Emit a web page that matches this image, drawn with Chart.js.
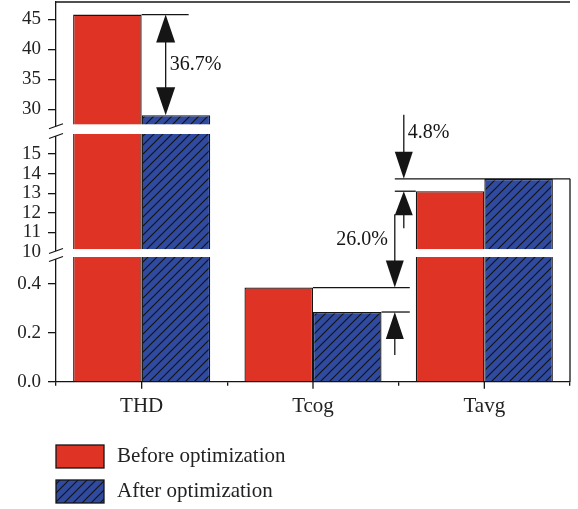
<!DOCTYPE html>
<html>
<head>
<meta charset="utf-8">
<title>Before / after optimization</title>
<script src="https://cdn.jsdelivr.net/npm/chart.js@4/dist/chart.umd.min.js"></script>
<style>
    html, body { margin: 0; padding: 0; background: #fff; }
    #wrap { width: 578px; height: 509px; }
</style>
</head>
<body>
<div id="wrap"><canvas id="optChart" width="578" height="509"></canvas></div>
<script>

// ======================================
// DATA
// ======================================

const categories = ["THD", "Tcog", "Tavg"];

const beforeValues = [45.8, 0.385, 13.1];

const afterValues = [29.0, 0.285, 13.73];

const yTicks = [0, 0.2, 0.4, 10, 11, 12, 13, 14, 15, 30, 35, 40, 45];

const changeLabels = ["36.7%", "26.0%", "4.8%"];

const seriesNames = ["Before optimization", "After optimization"];

// ======================================
// BROKEN AXIS (value knots -> share of plot height)
// ======================================

const axisValues = [0, 0.51, 10, 16.02, 27.5, 47.9];
const axisShares = [0, 0.3284, 0.3416, 0.6524, 0.6779, 1];
const axisBreaks = [[0.51, 10.15], [16.02, 27.5]];

const LinearScale = Chart.LinearScale || Chart.registry.getScale("linear");

class BrokenScale extends LinearScale {

    static id = "broken";

    buildTicks(){
        return yTicks.map(v=>({ value:v }));
    }

    getPixelForValue(value){
        let v = Math.max(axisValues[0], Math.min(axisValues[axisValues.length-1], value));
        let i = 1;
        while(i < axisValues.length-1 && v > axisValues[i]) i++;
        const t = (v - axisValues[i-1]) / (axisValues[i] - axisValues[i-1]);
        const share = axisShares[i-1] + t * (axisShares[i] - axisShares[i-1]);
        return this.bottom - share * (this.bottom - this.top);
    }

    getValueForPixel(pixel){
        const share = (this.bottom - pixel) / (this.bottom - this.top);
        let i = 1;
        while(i < axisShares.length-1 && share > axisShares[i]) i++;
        const t = (share - axisShares[i-1]) / (axisShares[i] - axisShares[i-1]);
        return axisValues[i-1] + t * (axisValues[i] - axisValues[i-1]);
    }

}

Chart.register(BrokenScale);

// ======================================
// STYLE
// ======================================

const RED = "#df3325";
const BLUE = "#2f4a9f";
const INK = "#151515";
const FONT = "'Liberation Serif', 'DejaVu Serif', serif";

const canvas = document.getElementById("optChart");
const ctx = canvas.getContext("2d");

function makeHatch(){

    const tile = document.createElement("canvas");
    tile.width = 9;
    tile.height = 9;

    const g = tile.getContext("2d");
    g.fillStyle = BLUE;
    g.fillRect(0, 0, 9, 9);

    g.strokeStyle = INK;
    g.lineWidth = 1.2;
    g.beginPath();
    g.moveTo(-1, 10); g.lineTo(10, -1);
    g.moveTo(-1, 1); g.lineTo(1, -1);
    g.moveTo(8, 10); g.lineTo(10, 8);
    g.stroke();

    return ctx.createPattern(tile, "repeat");

}

const hatch = makeHatch();

// ======================================
// HELPERS
// ======================================

function line(c, x1, y1, x2, y2){
    c.beginPath();
    c.moveTo(x1, y1);
    c.lineTo(x2, y2);
    c.stroke();
}

function arrowHead(c, x, tipY, dir, len, w){
    // dir = 1 points down, -1 points up
    c.beginPath();
    c.moveTo(x, tipY);
    c.lineTo(x - w/2, tipY - dir*len);
    c.lineTo(x + w/2, tipY - dir*len);
    c.closePath();
    c.fill();
}

function barBox(chart, ds, i){
    const el = chart.getDatasetMeta(ds).data[i];
    return {
        left: el.x - el.width/2,
        right: el.x + el.width/2,
        x: el.x,
        top: el.y
    };
}

// ======================================
// PLUGIN: breaks, frame, arrows, legend
// ======================================

const decorPlugin = {

    id:"decor",

    afterDatasetsDraw(chart){

        const c = chart.ctx;
        const area = chart.chartArea;
        const y = chart.scales.y;
        const xs = chart.scales.x;

        c.save();

        // white bands across bars that pass a break
        axisBreaks.forEach(br=>{

            const yLo = y.getPixelForValue(br[0]);
            const yHi = y.getPixelForValue(br[1]);

            categories.forEach((cat, i)=>{
                if(Math.max(beforeValues[i], afterValues[i]) <= br[0]) return;
                const b = barBox(chart, 0, i);
                const a = barBox(chart, 1, i);
                c.fillStyle = "#fff";
                c.fillRect(b.left - 1, yHi, a.right - b.left + 3, yLo - yHi);
            });

            // cut the left spine and draw slashes
            c.fillStyle = "#fff";
            c.fillRect(area.left - 2, yHi + 2, 4, yLo - yHi);

            c.strokeStyle = INK;
            c.lineWidth = 1.2;
            [yHi + 2, yLo + 2].forEach(sy=>{
                line(c, area.left - 7, sy + 2.5, area.left + 7, sy - 2.5);
            });

        });

        c.strokeStyle = INK;
        c.fillStyle = INK;
        c.lineWidth = 1.3;

        // top frame line
        line(c, area.left, area.top, area.right, area.top);

        // major ticks at category centres
        categories.forEach((cat, i)=>{
            const cx = xs.getPixelForValue(i);
            line(c, cx, area.bottom, cx, area.bottom + 7);
        });

        c.font = "20px " + FONT;
        c.textBaseline = "middle";

        // THD
        const thdB = barBox(chart, 0, 0);
        const thdA = barBox(chart, 1, 0);
        const ax = thdA.left + 24;

        line(c, thdA.left, thdB.top, thdA.left + 47, thdB.top);
        line(c, ax, thdB.top + 20, ax, thdA.top - 20);
        arrowHead(c, ax, thdB.top, -1, 28, 19);
        arrowHead(c, ax, thdA.top, 1, 28, 19);

        c.textAlign = "left";
        c.fillText(changeLabels[0], ax + 4, (thdB.top + thdA.top)/2);

        // Tcog and Tavg
        const tcB = barBox(chart, 0, 1);
        const tcA = barBox(chart, 1, 1);
        const taB = barBox(chart, 0, 2);
        const taA = barBox(chart, 1, 2);

        const L = taB.left;
        const x1 = L - 21;
        const x2 = L - 12;

        line(c, x1, taA.top, area.right, taA.top);
        line(c, x1, taB.top, L, taB.top);
        line(c, tcB.right, tcB.top, L - 6, tcB.top);
        line(c, tcA.right, tcA.top, L - 6, tcA.top);

        // right spine below the Tavg level
        line(c, area.right, taA.top, area.right, area.bottom);

        // 4.8 %
        line(c, x2, taA.top - 64, x2, taA.top - 10);
        arrowHead(c, x2, taA.top, 1, 27, 18);
        line(c, x2, taB.top + 10, x2, taB.top + 37);
        arrowHead(c, x2, taB.top, -1, 24, 18);
        c.fillText(changeLabels[2], x2 + 4, taA.top - 46);

        // 26.0 %
        line(c, x1, taB.top + 23, x1, tcB.top - 10);
        arrowHead(c, x1, tcB.top, 1, 27, 18);
        line(c, x1, tcA.top + 10, x1, tcA.top + 43);
        arrowHead(c, x1, tcA.top, -1, 27, 18);

        c.textAlign = "right";
        c.fillText(changeLabels[1], x1 - 7, (taB.top + tcB.top)/2);

        c.restore();

    },

    afterDraw(chart){

        // legend, stacked in one column
        const c = chart.ctx;
        const fills = [RED, hatch];
        const rows = [456.5, 491.5];

        c.save();
        c.font = "21px " + FONT;
        c.textAlign = "left";
        c.textBaseline = "middle";

        chart.data.datasets.forEach((ds, i)=>{
            c.fillStyle = fills[i];
            c.fillRect(56, rows[i] - 11.5, 48, 23);
            c.strokeStyle = INK;
            c.lineWidth = 1.3;
            c.strokeRect(56, rows[i] - 11.5, 48, 23);
            c.fillStyle = "#222";
            c.fillText(ds.label, 117, rows[i]);
        });

        c.restore();

    }

};

// ======================================
// CHART
// ======================================

new Chart(

    canvas,

    {

        type:"bar",

        data:{

            labels:categories,

            datasets:[

                {
                    label:seriesNames[0],
                    data:beforeValues,
                    backgroundColor:RED,
                    borderColor:INK,
                    borderWidth:1.3
                },

                {
                    label:seriesNames[1],
                    data:afterValues,
                    backgroundColor:hatch,
                    borderColor:INK,
                    borderWidth:1.3
                }

            ]

        },

        options:{

            responsive:false,
            animation:false,

            layout:{
                padding:{ top:2, right:8, bottom:87.3, left:0 }
            },

            datasets:{
                bar:{
                    categoryPercentage:0.8,
                    barPercentage:1.0
                }
            },

            plugins:{
                legend:{ display:false },
                tooltip:{ enabled:false }
            },

            scales:{

                x:{
                    offset:true,
                    grid:{
                        offset:true,
                        drawOnChartArea:false,
                        tickLength:4,
                        color:INK,
                        lineWidth:1.3
                    },
                    border:{ color:INK, width:1.3 },
                    ticks:{
                        color:"#222",
                        padding:8,
                        font:{ family:FONT, size:21 }
                    },
                    afterFit(scale){
                        scale.height = 40;
                        scale.paddingLeft = 0;
                        scale.paddingRight = 0;
                    }
                },

                y:{
                    type:"broken",
                    position:"left",
                    min:axisValues[0],
                    max:axisValues[axisValues.length-1],
                    grid:{
                        drawOnChartArea:false,
                        tickLength:8,
                        lineWidth:1.3,
                        tickColor:(c)=>c.tick && c.tick.value === 10 ? "rgba(0,0,0,0)" : INK
                    },
                    border:{ color:INK, width:1.3 },
                    ticks:{
                        autoSkip:false,
                        color:"#222",
                        padding:7,
                        font:{ family:FONT, size:19 },
                        callback:(v)=>v < 1 ? Number(v).toFixed(1) : String(v)
                    },
                    afterFit(scale){
                        scale.width = 56;
                        scale.paddingTop = 0;
                        scale.paddingBottom = 0;
                    }
                }

            }

        },

        plugins:[decorPlugin]

    }

);

</script>
</body>
</html>
